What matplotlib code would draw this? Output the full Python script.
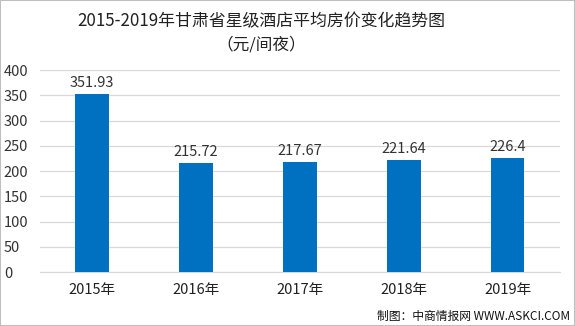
import matplotlib.pyplot as plt
from matplotlib.patches import Rectangle

plt.rcParams['font.family'] = ['Noto Sans CJK SC', 'DejaVu Sans']

years = ['2015年', '2016年', '2017年', '2018年', '2019年']
prices = [351.93, 215.72, 217.67, 221.64, 226.4]
price_labels = ['351.93', '215.72', '217.67', '221.64', '226.4']
y_ticks = [0, 50, 100, 150, 200, 250, 300, 350, 400]

fig = plt.figure(figsize=(5.75, 3.26), dpi=100)
ax = fig.add_axes([0.0696, 0.1656, 0.904, 0.6194])

x = list(range(len(years)))
ax.bar(x, prices, width=0.32, color='#0070C0', zorder=3)
for xi, v, lab in zip(x, prices, price_labels):
    ax.text(xi, v + 8, lab, ha='center', va='bottom', fontsize=10.5, color='#333333')

ax.set_xlim(-0.5, 4.5)
ax.set_ylim(0, 400)
ax.set_yticks(y_ticks)
ax.set_yticklabels([str(t) for t in y_ticks], fontsize=10.5, color='#333333')
ax.set_xticks(x)
ax.set_xticklabels(years, fontsize=10.5, color='#222222')
ax.tick_params(axis='both', length=0)
ax.tick_params(axis='x', pad=8)
ax.grid(axis='y', color='#D9D9D9', linewidth=0.9, zorder=0)
for s in ['top', 'right', 'left']:
    ax.spines[s].set_visible(False)
ax.spines['bottom'].set_color('#D9D9D9')
# left-aligned y labels near the figure edge
for lab in ax.get_yticklabels():
    lab.set_horizontalalignment('left')
ax.tick_params(axis='y', pad=26)

fig.text(0.455, 0.935, '2015-2019年甘肃省星级酒店平均房价变化趋势图', ha='center', va='center',
         fontsize=12.2, color='#222222')
fig.text(0.455, 0.862, '（元/间夜）', ha='center', va='center', fontsize=12, color='#222222')
fig.text(0.992, 0.03, '制图：中商情报网 WWW.ASKCI.COM', ha='right', va='center',
         fontsize=8.5, color='#111111')

fig.patches.append(Rectangle((0, 0), 1, 1, transform=fig.transFigure, fill=False,
                             edgecolor='#BFBFBF', linewidth=1.5))

fig.savefig('out.png', dpi=100)
